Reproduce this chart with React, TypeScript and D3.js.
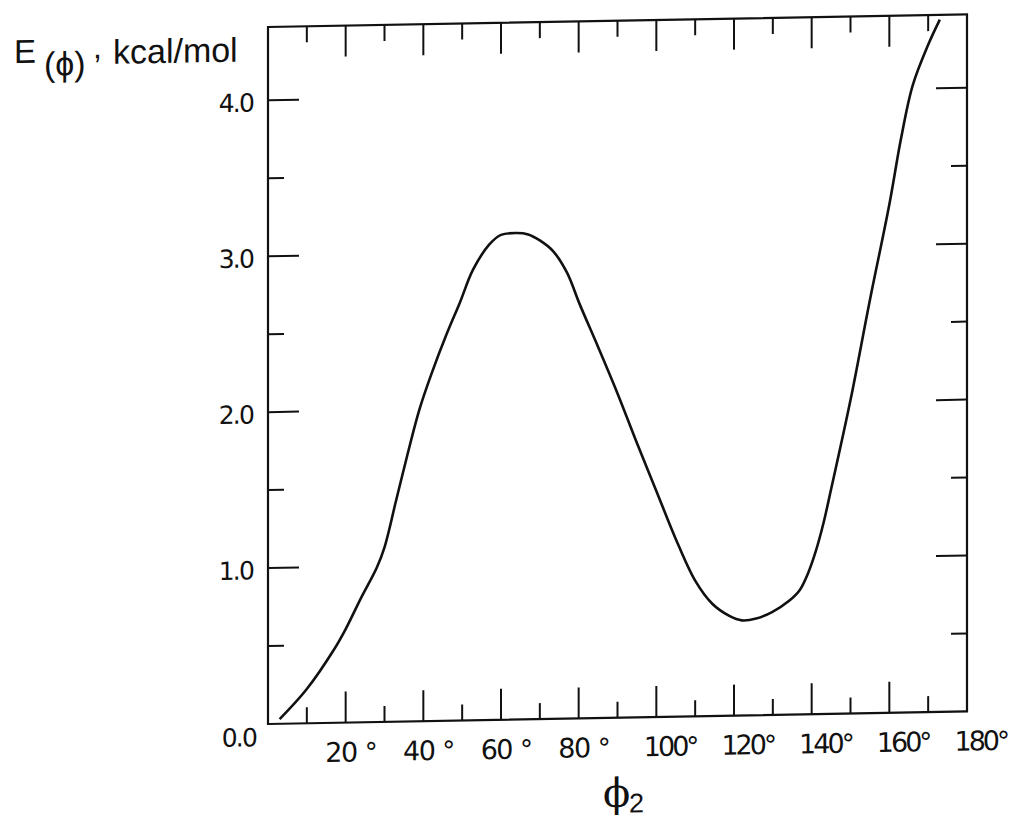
import React from 'react';
import * as d3 from 'd3';

// torsion angle phi2 (degrees) and energy E (kcal/mol)
const angles = [3, 10, 17, 20, 24, 28, 30, 33, 36, 39, 42, 46, 49.4, 52.8, 57, 60, 64, 67, 70, 73.4, 77, 80.2, 85, 90, 95, 100, 105, 110, 114.4, 118.8, 122, 125.7, 129.8, 134.2, 137, 139, 141, 143, 145, 150, 155, 160, 163, 166, 170, 173];
const energies = [0.03, 0.22, 0.47, 0.6, 0.8, 0.99, 1.12, 1.42, 1.72, 2.0, 2.22, 2.48, 2.68, 2.89, 3.05, 3.11, 3.12, 3.11, 3.07, 3.0, 2.86, 2.66, 2.38, 2.08, 1.76, 1.45, 1.14, 0.87, 0.72, 0.64, 0.61, 0.62, 0.66, 0.73, 0.8, 0.9, 1.04, 1.22, 1.44, 2.01, 2.65, 3.26, 3.68, 4.02, 4.28, 4.44];

const xMajorTicks = [20, 40, 60, 80, 100, 120, 140, 160];
const xMinorTicks = [10, 30, 50, 70, 90, 110, 130, 150, 170];
const xLabelValues = [20, 40, 60, 80, 100, 120, 140, 160, 180];
const xLabelTexts = ['20', '40', '60', '80', '100', '120', '140', '160', '180'];
const yMajorTicks = [1, 2, 3, 4];
const yMinorTicks = [0.5, 1.5, 2.5, 3.5];
const yLabelValues = [0, 1, 2, 3, 4];
const yLabelTexts = ['0.0', '1.0', '2.0', '3.0', '4.0'];

const SANS = '"Liberation Sans", Arial, Helvetica, sans-serif';
const WIDE = '"DejaVu Sans", "Liberation Sans", sans-serif';
const SERIF = '"DejaVu Serif", "Liberation Serif", serif';

export default function App() {
  const W = 1013;
  const H = 822;
  const x = d3.scaleLinear().domain([0, 180]).range([268, 967]);
  const y = d3.scaleLinear().domain([0, 4.47]).range([724, 27]);
  const x0 = x(0), x1 = x(180), y0 = y(0), y1 = y(4.47);
  const majorLen = 31;
  const minorLen = 16;

  const line = d3
    .line<number>()
    .x((_, i) => x(angles[i]))
    .y((d) => y(d))
    .curve(d3.curveCatmullRom.alpha(0.5));

  const stroke = '#111';

  return (
    <svg
      width={W}
      height={H}
      viewBox={`0 0 ${W} ${H}`}
      style={{ position: 'absolute', left: 0, top: 0, background: '#fff' }}
    >
      <rect x={0} y={0} width={W} height={H} fill="#fff" />
      <g transform={`translate(${x0},0) skewY(-1.03) translate(${-x0},0)`}>
        {/* frame */}
        <rect x={x0} y={y1} width={x1 - x0} height={y0 - y1} fill="none" stroke={stroke} strokeWidth={2.2} />
        {/* x ticks bottom & top */}
        {xMajorTicks.map((v) => (
          <g key={'xM' + v}>
            <line x1={x(v)} x2={x(v)} y1={y0} y2={y0 - majorLen} stroke={stroke} strokeWidth={2} />
            <line x1={x(v)} x2={x(v)} y1={y1} y2={y1 + majorLen} stroke={stroke} strokeWidth={2} />
          </g>
        ))}
        {xMinorTicks.map((v) => (
          <g key={'xm' + v}>
            <line x1={x(v)} x2={x(v)} y1={y0} y2={y0 - minorLen} stroke={stroke} strokeWidth={2} />
            <line x1={x(v)} x2={x(v)} y1={y1} y2={y1 + minorLen} stroke={stroke} strokeWidth={2} />
          </g>
        ))}
        {/* y ticks left & right */}
        {yMajorTicks.map((v) => (
          <g key={'yM' + v}>
            <line x1={x0} x2={x0 + majorLen} y1={y(v)} y2={y(v)} stroke={stroke} strokeWidth={2} />
            <line x1={x1} x2={x1 - majorLen} y1={y(v)} y2={y(v)} stroke={stroke} strokeWidth={2} />
          </g>
        ))}
        {yMinorTicks.map((v) => (
          <g key={'ym' + v}>
            <line x1={x0} x2={x0 + minorLen} y1={y(v)} y2={y(v)} stroke={stroke} strokeWidth={2} />
            <line x1={x1} x2={x1 - minorLen} y1={y(v)} y2={y(v)} stroke={stroke} strokeWidth={2} />
          </g>
        ))}
        {/* curve */}
        <path d={line(energies) || ''} fill="none" stroke={stroke} strokeWidth={2.6} strokeLinejoin="round" />

        {/* y labels */}
        {yLabelValues.map((v, i) => (
          <text
            key={'yl' + v}
            x={v === 0 ? x0 - 12 : x0 - 15}
            y={v === 0 ? y(v) + 22 : y(v) + 11}
            textAnchor="end"
            fontFamily={WIDE}
            fontSize={25}
            letterSpacing={-1.8}
            fill={stroke}
          >
            {yLabelTexts[i]}
          </text>
        ))}

        {/* x labels */}
        {xLabelValues.map((v, i) => {
          const three = xLabelTexts[i].length === 3;
          const end = x(v) + (three ? 30 : 11);
          return (
            <g key={'xl' + v}>
              <text
                x={end}
                y={763}
                textAnchor="end"
                fontFamily={WIDE}
                fontSize={27}
                letterSpacing={three ? -3 : -1.5}
                fill={stroke}
              >
                {xLabelTexts[i]}
              </text>
              <text
                x={end + (three ? 0 : 8)}
                y={763}
                textAnchor="start"
                fontFamily={WIDE}
                fontSize={26}
                fill={stroke}
              >
                °
              </text>
            </g>
          );
        })}

        {/* y axis title */}
        <text x={14} y={58.5} fontFamily={SANS} fontSize={33} fill={stroke}>
          E
        </text>
        <text x={44} y={72} fontFamily={SANS} fontSize={34} fill={stroke}>
          (ϕ)
        </text>
        <text x={93} y={55} fontFamily={SANS} fontSize={32} fill={stroke}>
          ,
        </text>
        <text x={113} y={61} fontFamily={SANS} fontSize={34} fill={stroke}>
          kcal/mol
        </text>

        {/* x axis title */}
        <text x={603} y={813} fontFamily={SERIF} fontSize={40} fill={stroke}>
          ϕ
        </text>
        <text x={629} y={819} fontFamily={SANS} fontSize={27} fill={stroke}>
          2
        </text>
      </g>
    </svg>
  );
}
